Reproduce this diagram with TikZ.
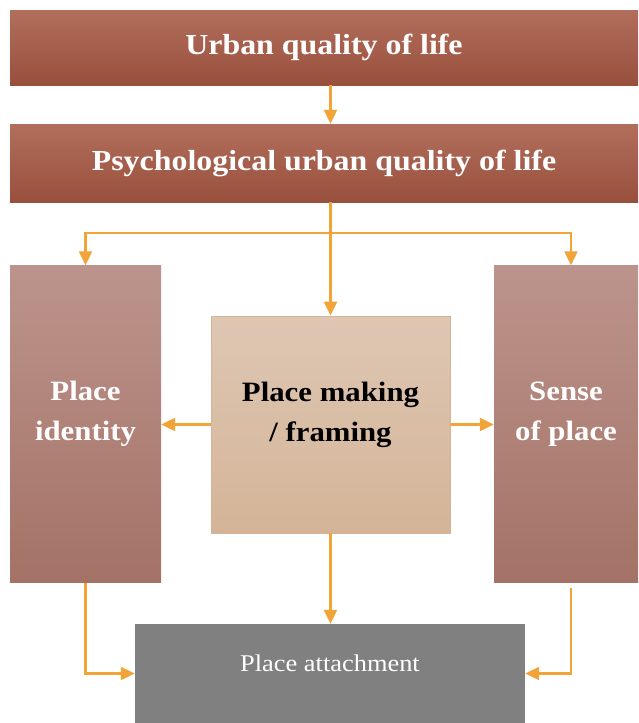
\documentclass[tikz,border=0pt]{standalone}
\usepackage{fontspec}
\setmainfont{Liberation Serif}[FakeStretch=1.1]
\usetikzlibrary{arrows.meta}
\definecolor{barTop}{RGB}{178,110,92}
\definecolor{barBot}{RGB}{152,80,60}
\definecolor{sideTop}{RGB}{188,148,140}
\definecolor{sideBot}{RGB}{164,114,102}
\definecolor{midTop}{RGB}{222,199,179}
\definecolor{midBot}{RGB}{212,180,152}
\definecolor{midEdge}{RGB}{214,178,150}
\definecolor{attachGray}{RGB}{128,128,128}
\definecolor{arrowOr}{RGB}{242,164,56}
\tikzset{
  bar/.style={rectangle, inner sep=0pt, top color=barTop, bottom color=barBot, text=white,
    font=\fontsize{29}{36}\selectfont\bfseries, minimum width=628pt},
  side/.style={rectangle, inner sep=0pt, top color=sideTop, bottom color=sideBot,
    minimum height=317pt},
  midbox/.style={rectangle, inner sep=0pt, top color=midTop, bottom color=midBot, draw=midEdge,
    line width=0.8pt, minimum width=239pt, minimum height=217pt},
  graybox/.style={rectangle, inner sep=0pt, fill=attachGray, minimum width=390pt, minimum height=99pt},
  boxtext/.style={align=center, font=\fontsize{28}{40}\selectfont\bfseries, yshift=10pt},
  arr/.style={draw=arrowOr, line width=2.2pt, -{Triangle[length=14pt,width=13pt]}},
  ln/.style={draw=arrowOr, line width=2.2pt}
}
\begin{document}
\begin{tikzpicture}[x=1pt,y=-1pt]
\useasboundingbox[fill=white] (0,0) rectangle (638,723);
\node[bar, minimum height=75pt] (top) at (324,47.5) {Urban quality of life};
\node[bar, minimum height=78pt] (psy) at (324,163) {Psychological urban quality of life};
\node[side, minimum width=151pt, label={[boxtext, text=white]center:Place\\identity}] (ident) at (85.5,424) {};
\node[side, minimum width=144pt, label={[boxtext, text=white]center:Sense\\of place}] (sense) at (566,424) {};
\node[midbox, label={[boxtext, text=black]center:Place making\\/ framing}] (making) at (330.5,424.5) {};
\node[graybox, label={[text=white, font=\fontsize{24}{30}\selectfont, yshift=10pt]center:Place attachment}] (attach) at (330,673.5) {};
\coordinate (br) at (330.5,233);
\draw[arr] (top.south -| making) -- (psy.north -| making);
\draw[arr] (psy.south -| making) -- (making.north);
\draw[arr] (br) -| (ident.north);
\draw[arr] (br) -| ([xshift=5pt]sense.north);
\draw[arr] (making.west) -- (making.west -| ident.east);
\draw[arr] (making.east) -- (making.east -| sense.west);
\draw[arr] (making.south) -- (attach.north -| making);
\draw[arr] (ident.south) |- (attach.west);
\draw[arr] ([xshift=5pt,yshift=-5pt]sense.south) |- (attach.east);
\end{tikzpicture}
\end{document}
